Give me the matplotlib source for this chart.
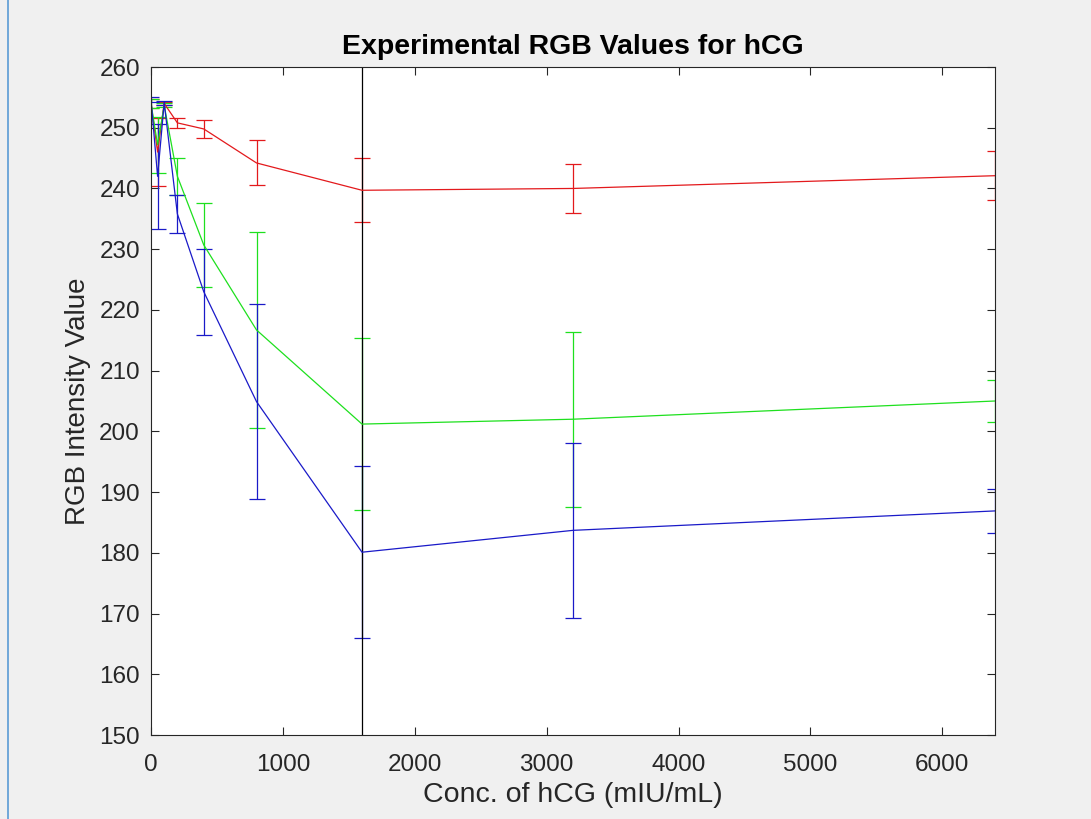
import numpy as np
import matplotlib.pyplot as plt
from matplotlib.lines import Line2D

# concentrations (mIU/mL)
conc = [0, 50, 100, 200, 400, 800, 1600, 3200, 6400]

# mean intensity per channel
red_vals = [254.0, 246.0, 254.0, 250.8, 249.8, 244.2, 239.7, 240.0, 242.1]
green_vals = [254.0, 247.2, 253.7, 242.0, 230.7, 216.7, 201.2, 202.0, 205.0]
blue_vals = [254.6, 242.0, 254.1, 235.8, 223.0, 204.9, 180.1, 183.7, 186.9]

# error bar half-widths
red_err = [0.7, 5.6, 0.3, 0.8, 1.5, 3.7, 5.3, 4.0, 4.0]
green_err = [0.7, 4.6, 0.3, 3.0, 6.9, 16.1, 14.1, 14.4, 3.5]
blue_err = [0.4, 8.6, 0.3, 3.1, 7.1, 16.1, 14.2, 14.4, 3.6]

plt.rcParams['font.family'] = ['Liberation Sans', 'DejaVu Sans']

fig = plt.figure(figsize=(10.91, 8.19), dpi=100, facecolor='#f0f0f0')
ax = fig.add_axes([151/1091, 1 - 735/819, 844/1091, 668/819])
ax.set_facecolor('white')

for vals, err, col in [(red_vals, red_err, '#e3191c'),
                       (green_vals, green_err, '#1ee01e'),
                       (blue_vals, blue_err, '#1a1ac8')]:
    ax.errorbar(conc, vals, yerr=err, color=col, lw=0.9, elinewidth=0.9,
                capsize=5.8, capthick=0.9)

ax.axvline(1600, color='black', lw=0.9)

ax.set_xlim(0, 6400)
ax.set_ylim(150, 260)
ax.set_xticks(np.arange(0, 6001, 1000))
ax.set_yticks(np.arange(150, 261, 10))
ax.tick_params(direction='in', top=True, right=True, labelsize=17.5,
               colors='#262626', length=6, width=0.8)
ax.tick_params(axis='y', pad=8)
ax.tick_params(axis='x', pad=14)
for s in ax.spines.values():
    s.set_color('#262626')
    s.set_linewidth(0.8)

ax.set_title('Experimental RGB Values for hCG', fontsize=20.5, fontweight='bold', pad=9)
ax.set_xlabel('Conc. of hCG (mIU/mL)', fontsize=20.5, color='#262626', labelpad=4)
ax.set_ylabel('RGB Intensity Value', fontsize=20, color='#262626', labelpad=6)

# window edge seen in the screenshot
fig.add_artist(Line2D([8/1091, 8/1091], [0, 1], color='#5b9bd5', lw=1.2))

fig.savefig('out.png', dpi=100, facecolor=fig.get_facecolor())
